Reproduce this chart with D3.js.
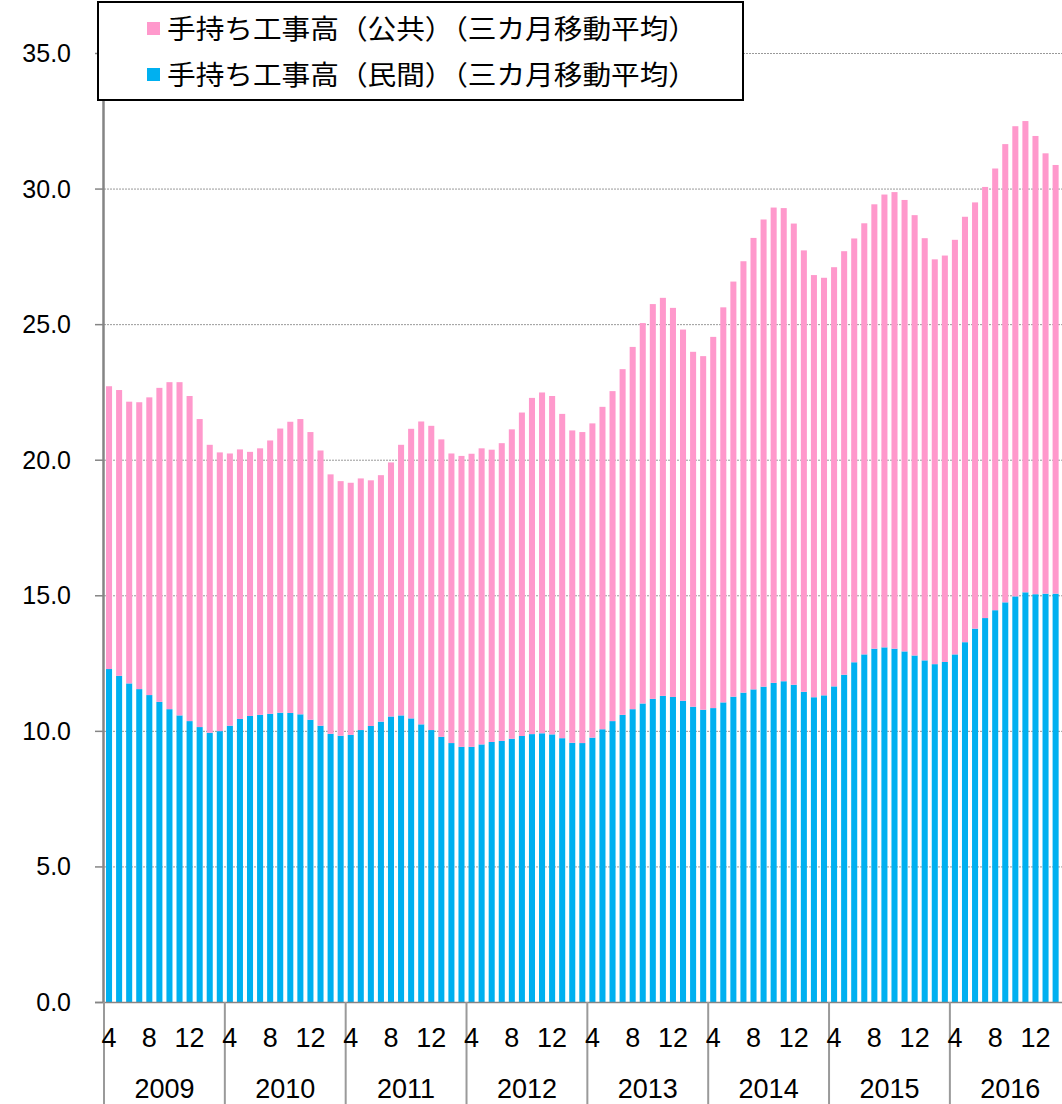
<!DOCTYPE html>
<html>
<head>
<meta charset="utf-8">
<script src="https://cdn.jsdelivr.net/npm/d3@7"></script>
<style>
    body { margin: 0; background: #fff; }
    svg { display: block; }
    text { font-family: "Liberation Sans", Arial, sans-serif; fill: #000; }
    .legend-text { font-family: "Noto Sans CJK JP", sans-serif; }
</style>
</head>
<body>
<div id="chart"></div>
<script>
// fiscal years (April to March), months inside each year
const fiscalYears = [2009, 2010, 2011, 2012, 2013, 2014, 2015, 2016];
const monthsOfYear = [4, 5, 6, 7, 8, 9, 10, 11, 12, 1, 2, 3];
const shownMonths = [4, 8, 12];
const yTicks = [0, 5, 10, 15, 20, 25, 30, 35];

// 手持ち工事高（民間）（三カ月移動平均） - 2009/4 .. 2017/2
const privateValues = [
    12.28, 12.03, 11.75, 11.54, 11.32, 11.07, 10.80, 10.57, 10.36, 10.14, 9.93, 9.99,
    10.19, 10.44, 10.55, 10.59, 10.63, 10.67, 10.66, 10.61, 10.41, 10.19, 9.89, 9.82,
    9.85, 10.03, 10.18, 10.34, 10.53, 10.57, 10.46, 10.24, 10.03, 9.78, 9.55, 9.41,
    9.41, 9.50, 9.59, 9.63, 9.71, 9.81, 9.88, 9.91, 9.87, 9.73, 9.56, 9.55,
    9.75, 10.06, 10.36, 10.59, 10.80, 11.01, 11.18, 11.29, 11.25, 11.11, 10.89, 10.78,
    10.84, 11.05, 11.26, 11.41, 11.53, 11.63, 11.77, 11.83, 11.70, 11.44, 11.24, 11.31,
    11.64, 12.07, 12.53, 12.82, 13.03, 13.08, 13.03, 12.93, 12.78, 12.60, 12.46, 12.54,
    12.82, 13.27, 13.77, 14.16, 14.45, 14.74, 14.96, 15.11, 15.04, 15.06, 15.06
];

// 手持ち工事高（公共）（三カ月移動平均） - stacked on top
const publicValues = [
    10.43, 10.54, 10.39, 10.58, 10.98, 11.58, 12.06, 12.29, 11.99, 11.36, 10.62, 10.28,
    10.04, 9.94, 9.74, 9.83, 10.08, 10.48, 10.74, 10.89, 10.61, 10.15, 9.57, 9.39,
    9.30, 9.28, 9.06, 9.09, 9.37, 9.98, 10.68, 11.17, 11.22, 10.97, 10.68, 10.73,
    10.81, 10.92, 10.78, 10.98, 11.41, 11.93, 12.40, 12.57, 12.48, 11.96, 11.52, 11.47,
    11.59, 11.89, 12.17, 12.75, 13.36, 14.03, 14.56, 14.68, 14.35, 13.69, 13.09, 13.04,
    13.69, 14.57, 15.31, 15.91, 16.65, 17.23, 17.53, 17.45, 17.01, 16.28, 15.57, 15.40,
    15.46, 15.62, 15.63, 15.90, 16.39, 16.70, 16.84, 16.65, 16.24, 15.57, 14.93, 14.99,
    15.29, 15.69, 15.72, 15.90, 16.29, 16.90, 17.34, 17.38, 16.90, 16.24, 15.81
];

const seriesNames = ["手持ち工事高（公共）（三カ月移動平均）", "手持ち工事高（民間）（三カ月移動平均）"];
const seriesColors = ["#FF99CC", "#00B0F0"];

const width = 1062, height = 1104;
const svg = d3.select("#chart").append("svg")
    .attr("width", width)
    .attr("height", height);

// one slot per month, 12 per fiscal year
const slots = [];
fiscalYears.forEach(fy => monthsOfYear.forEach(m => slots.push({ fy, m })));

const plotLeft = 104, step = 10.07;
const x = d3.scaleBand()
    .domain(d3.range(slots.length))
    .range([plotLeft, plotLeft + step * slots.length])
    .paddingInner(0.4)
    .paddingOuter(0.2);

const y = d3.scaleLinear()
    .domain([0, 35])
    .range([1002, 53]);

// gridlines
svg.append("g")
    .selectAll("line")
    .data(yTicks.filter(d => d > 0))
    .enter()
    .append("line")
    .attr("x1", plotLeft)
    .attr("x2", width)
    .attr("y1", d => y(d) + 0.5)
    .attr("y2", d => y(d) + 0.5)
    .style("stroke", "#999")
    .style("stroke-width", 1)
    .style("stroke-dasharray", "2,1");

// stacked bars
const rows = privateValues.map((v, i) => ({ i, priv: v, pub: publicValues[i] }));
const bars = svg.append("g");

bars.selectAll(".bar-private")
    .data(rows)
    .enter()
    .append("rect")
    .attr("class", "bar-private")
    .attr("x", d => x(d.i))
    .attr("width", x.bandwidth())
    .attr("y", d => y(d.priv))
    .attr("height", d => y(0) - y(d.priv))
    .style("fill", seriesColors[1]);

bars.selectAll(".bar-public")
    .data(rows)
    .enter()
    .append("rect")
    .attr("class", "bar-public")
    .attr("x", d => x(d.i))
    .attr("width", x.bandwidth())
    .attr("y", d => y(d.priv + d.pub))
    .attr("height", d => y(d.priv) - y(d.priv + d.pub))
    .style("fill", seriesColors[0]);

// y axis
const yAxis = svg.append("g");
yAxis.append("line")
    .attr("x1", plotLeft - 0.5).attr("x2", plotLeft - 0.5)
    .attr("y1", y(35)).attr("y2", y(0))
    .style("stroke", "#858585")
    .style("stroke-width", 2.5);

yAxis.selectAll(".tick")
    .data(yTicks)
    .enter()
    .append("line")
    .attr("x1", 95).attr("x2", plotLeft)
    .attr("y1", d => y(d) + 0.5).attr("y2", d => y(d) + 0.5)
    .style("stroke", "#858585")
    .style("stroke-width", 1.5);

yAxis.selectAll(".label")
    .data(yTicks)
    .enter()
    .append("text")
    .attr("x", 71)
    .attr("y", d => y(d))
    .attr("dy", "0.36em")
    .style("text-anchor", "end")
    .style("font-size", "25px")
    .text(d => d.toFixed(1));

// x axis
const xAxis = svg.append("g");
xAxis.append("line")
    .attr("x1", 95).attr("x2", width)
    .attr("y1", y(0) + 0.5).attr("y2", y(0) + 0.5)
    .style("stroke", "#858585")
    .style("stroke-width", 1.5);

const yearWidth = step * monthsOfYear.length;
xAxis.selectAll(".sep")
    .data(d3.range(fiscalYears.length + 1))
    .enter()
    .append("line")
    .attr("x1", d => plotLeft + d * yearWidth)
    .attr("x2", d => plotLeft + d * yearWidth)
    .attr("y1", y(0))
    .attr("y2", height)
    .style("stroke", "#9a9a9a")
    .style("stroke-width", 2);

xAxis.selectAll(".month")
    .data(slots.map((s, i) => ({ ...s, i })).filter(s => shownMonths.includes(s.m)))
    .enter()
    .append("text")
    .attr("x", d => x(d.i) + x.bandwidth() / 2)
    .attr("y", 1047)
    .style("text-anchor", "middle")
    .style("font-size", "27px")
    .text(d => d.m);

xAxis.selectAll(".year")
    .data(fiscalYears)
    .enter()
    .append("text")
    .attr("x", (d, i) => plotLeft + (i + 0.5) * yearWidth)
    .attr("y", 1098)
    .style("text-anchor", "middle")
    .style("font-size", "27px")
    .text(d => d);

// legend
const legend = svg.append("g");
legend.append("rect")
    .attr("x", 98).attr("y", 2)
    .attr("width", 645).attr("height", 98)
    .style("fill", "#fff")
    .style("stroke", "#000")
    .style("stroke-width", 2);

seriesNames.forEach((name, i) => {
    const cy = 29 + i * 46;
    legend.append("rect")
        .attr("x", 147).attr("y", cy - 7)
        .attr("width", 13).attr("height", 13)
        .style("fill", seriesColors[i]);
    legend.append("text")
        .attr("class", "legend-text")
        .attr("x", 167)
        .attr("y", cy)
        .attr("dy", "0.36em")
        .style("font-size", "27px")
        .attr("textLength", 530)
        .attr("lengthAdjust", "spacingAndGlyphs")
        .text(name);
});
</script>
</body>
</html>
